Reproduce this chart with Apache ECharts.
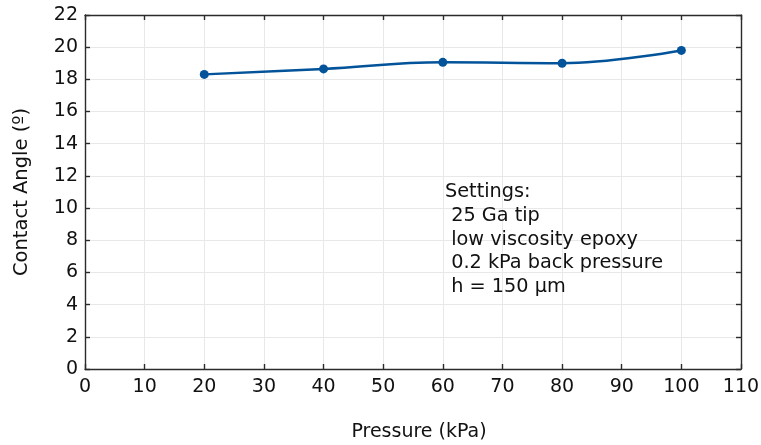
<!DOCTYPE html>
<html><head><meta charset="utf-8">
<script src="https://cdn.jsdelivr.net/npm/echarts@6/dist/echarts.min.js"></script>
<style>html,body{margin:0;padding:0;background:#fff}#c{width:761px;height:445px}</style>
</head><body><div id="c"></div>
<script>
const pressure = [20, 40, 60, 80, 100];
const contactAngle = [18.31, 18.65, 19.06, 19.0, 19.8];
const xTicks = {min: 0, max: 110, interval: 10};
const yTicks = {min: 0, max: 22, interval: 2};
const noteLines = ['Settings:', ' 25 Ga tip', ' low viscosity epoxy', ' 0.2 kPa back pressure', ' h = 150 µm'];

const font = 'DejaVu Sans';
const axisCol = '#2b2b2b';
const chart = echarts.init(document.getElementById('c'));
const common = {
  axisLine: {show: true, onZero: false, lineStyle: {color: axisCol, width: 1.4}},
  axisTick: {show: true, inside: true, length: 5, lineStyle: {color: axisCol, width: 1.4}},
};
chart.setOption({
  animation: false,
  grid: {left: 85, right: 20, top: 15, bottom: 76, containLabel: false, outerBoundsMode: 'none'},
  xAxis: [
    Object.assign({type: 'value', min: xTicks.min, max: xTicks.max, interval: xTicks.interval,
      name: 'Pressure (kPa)', nameLocation: 'middle', nameGap: 54,
      nameTextStyle: {fontFamily: font, fontSize: 19, color: '#111', padding: [0, 0, 0, 12]},
      axisLabel: {fontFamily: font, fontSize: 19, color: '#111', margin: 9},
      splitLine: {show: true, lineStyle: {color: '#e8e8e8', width: 1}}}, common),
    Object.assign({type: 'value', position: 'top', min: xTicks.min, max: xTicks.max, interval: xTicks.interval,
      axisLabel: {show: false}, splitLine: {show: false}}, common)
  ],
  yAxis: [
    Object.assign({type: 'value', min: yTicks.min, max: yTicks.max, interval: yTicks.interval,
      name: 'Contact Angle (º)', nameLocation: 'middle', nameGap: 53, nameRotate: 90,
      nameTextStyle: {fontFamily: font, fontSize: 19.5, color: '#111'},
      axisLabel: {fontFamily: font, fontSize: 19, color: '#111', margin: 7},
      splitLine: {show: true, lineStyle: {color: '#e8e8e8', width: 1}}}, common),
    Object.assign({type: 'value', position: 'right', min: yTicks.min, max: yTicks.max, interval: yTicks.interval,
      axisLabel: {show: false}, splitLine: {show: false}}, common)
  ],
  series: [{
    type: 'line',
    data: pressure.map((p, i) => [p, contactAngle[i]]),
    smooth: 0.4,
    symbol: 'circle', symbolSize: 9,
    lineStyle: {color: '#03539a', width: 2.5},
    itemStyle: {color: '#03539a'},
    z: 5
  }],
  graphic: [{
    type: 'text', left: 445, top: 180, z: 10,
    style: {text: noteLines.join('\n'), fontFamily: font, fontSize: 19.3, lineHeight: 23.8, fill: '#111'}
  }]
});
</script></body></html>
